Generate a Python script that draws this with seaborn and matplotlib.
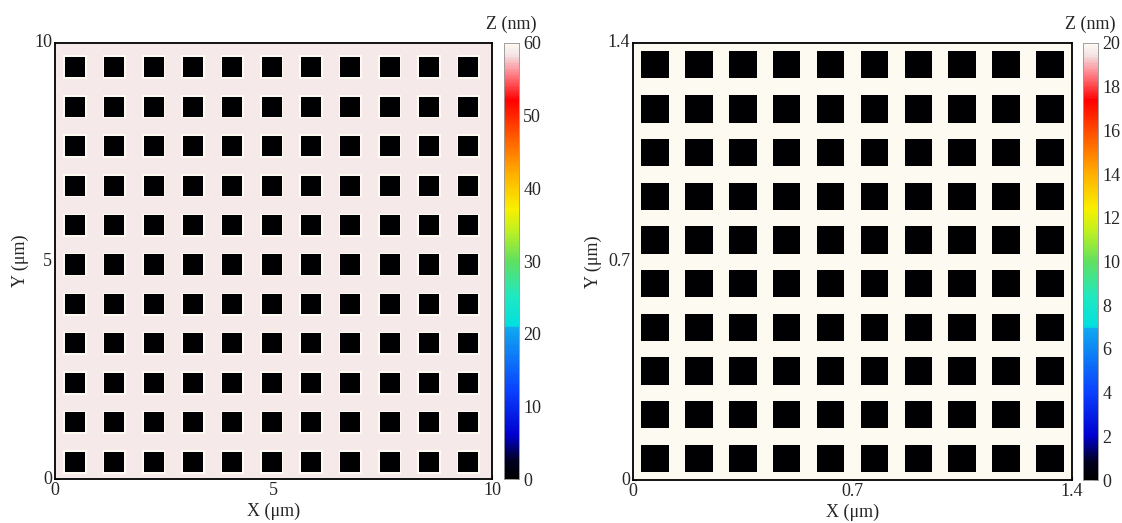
import numpy as np
import matplotlib
matplotlib.use("Agg")
from matplotlib import pyplot as plt
from matplotlib.colors import LinearSegmentedColormap
import seaborn as sns

# ---- data ----
# left scan: 10 x 10 um, 11 x 11 holes
left_extent = 10.0
left_x_centers = [0.46, 1.36, 2.26, 3.16, 4.06, 4.96, 5.86, 6.76, 7.66, 8.56, 9.46]
left_y_centers = [0.39, 1.30, 2.20, 3.11, 4.01, 4.92, 5.82, 6.73, 7.64, 8.54, 9.45]
left_hole_size = 0.46
left_surface_z = 58.7
left_rim_z = 60.0
left_hole_z = 0.3
left_zmax = 60
left_ticks = [0, 5, 10]
left_cbar_ticks = [0, 10, 20, 30, 40, 50, 60]

# right scan: 1.4 x 1.4 um, 10 x 10 holes
right_extent = 1.4
right_x_centers = [0.07, 0.21, 0.35, 0.49, 0.63, 0.77, 0.91, 1.05, 1.19, 1.33]
right_y_centers = [0.069, 0.209, 0.349, 0.489, 0.629, 0.769, 0.909, 1.049, 1.189, 1.331]
right_hole_size = 0.088
right_surface_z = 19.95
right_rim_z = 20.0
right_hole_z = 0.1
right_zmax = 20
right_ticks = [0, 0.7, 1.4]
right_cbar_ticks = [0, 2, 4, 6, 8, 10, 12, 14, 16, 18, 20]

# AFM-style palette: black -> blue -> cyan -> green -> yellow -> red -> white
cmap = LinearSegmentedColormap.from_list("afm", [
    (0.00, "#000000"), (0.04, "#000020"), (0.10, "#0000d0"), (0.20, "#0a40ff"),
    (0.345, "#10a8f0"), (0.35, "#00e0e0"), (0.42, "#20e8c0"), (0.50, "#60e060"),
    (0.57, "#c0f020"), (0.62, "#f8f000"), (0.70, "#ffb000"), (0.78, "#ff6000"),
    (0.87, "#ff0000"), (0.93, "#ff8088"), (0.975, "#f3e4e6"), (1.00, "#fdfaf2"),
])


def height_map(extent, xc, yc, size, z_surf, z_rim, z_hole, nx, ny):
    xs = (np.arange(nx) + 0.5) / nx * extent
    ys = (np.arange(ny) + 0.5) / ny * extent
    X, Y = np.meshgrid(xs, ys)
    dist = np.full(X.shape, np.inf)
    for cx in xc:
        for cy in yc:
            dx = np.maximum(np.abs(X - cx) - size / 2, 0)
            dy = np.maximum(np.abs(Y - cy) - size / 2, 0)
            dist = np.minimum(dist, np.maximum(dx, dy))
    Z = np.full(X.shape, z_surf)
    Z[dist < size * 0.08] = z_rim
    Z[dist <= 0] = z_hole
    return Z


sns.set_style("white")
plt.rcParams["font.family"] = ["Liberation Serif", "DejaVu Serif"]
plt.rcParams["font.size"] = 13

fig = plt.figure(figsize=(11.22, 5.23), dpi=100)

panels = [
    (left_extent, left_x_centers, left_y_centers, left_hole_size, left_surface_z,
     left_rim_z, left_hole_z, left_zmax, left_ticks, left_cbar_ticks,
     [0.049, 0.0841, 0.3895, 0.8337], [0.4492, 0.0841, 0.0134, 0.8337],
     ["0", "5", "10"], (437, 436)),
    (right_extent, right_x_centers, right_y_centers, right_hole_size, right_surface_z,
     right_rim_z, right_hole_z, right_zmax, right_ticks, right_cbar_ticks,
     [0.5642, 0.0822, 0.3913, 0.8356], [0.9652, 0.0822, 0.0134, 0.8356],
     ["0", "0.7", "1.4"], (439, 437)),
]

for (extent, xc, yc, size, zs, zr, zh, zmax, ticks, cticks,
     ax_pos, cax_pos, labels, shape) in panels:
    ax = fig.add_axes(ax_pos)
    cax = fig.add_axes(cax_pos)
    Z = height_map(extent, xc, yc, size, zs, zr, zh, *shape)
    ny, nx = Z.shape
    sns.heatmap(Z, ax=ax, cbar_ax=cax, cmap=cmap, vmin=0, vmax=zmax,
                xticklabels=False, yticklabels=False, rasterized=True)
    ax.invert_yaxis()
    ax.set_xticks([t / extent * nx for t in ticks])
    ax.set_xticklabels(labels, rotation=0)
    ax.set_yticks([t / extent * ny for t in ticks])
    ax.set_yticklabels(labels, rotation=0, va="center")
    ax.tick_params(direction="in", length=3, width=0.8, pad=2,
                   bottom=True, left=True, labelsize=13)
    for sp in ax.spines.values():
        sp.set_visible(True)
        sp.set_color("black")
        sp.set_linewidth(1.3)
    ax.set_xlabel("X (μm)", fontsize=13, labelpad=3)
    ax.set_ylabel("Y (μm)", fontsize=13, labelpad=4)

    cax.set_yticks(cticks)
    cax.tick_params(direction="in", length=3, width=0.6, labelsize=13, pad=3)
    cax.set_title("Z (nm)", fontsize=13, pad=10)
    for sp in cax.spines.values():
        sp.set_visible(True)
        sp.set_color("#999999")
        sp.set_linewidth(0.5)

fig.savefig("out.png", dpi=100)
